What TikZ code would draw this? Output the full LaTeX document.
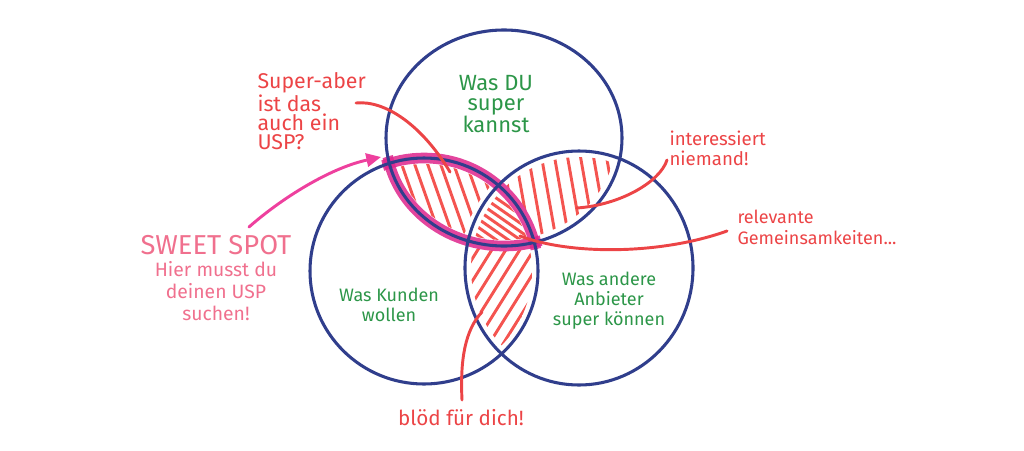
\documentclass[tikz,border=0pt]{standalone}
\usepackage{fontspec}
\setmainfont{Fira Sans}
\usetikzlibrary{arrows.meta}

\definecolor{venblue}{RGB}{48,62,140}
\definecolor{hatchred}{RGB}{244,84,80}
\definecolor{notered}{RGB}{236,68,70}
\definecolor{notegreen}{RGB}{44,150,72}
\definecolor{spotmagenta}{RGB}{222,36,140}
\definecolor{sweetpink}{RGB}{240,112,142}
\definecolor{arrowpink}{RGB}{238,64,158}

\tikzset{every picture/.style={line width=0.75pt}}
\tikzset{
  ring/.style={draw=venblue, line width=2.3pt},
  hatch/.style={draw=hatchred, line width=2.2pt, line cap=round},
  noteline/.style={draw=notered, line width=2.2pt, line cap=round},
  rednote/.style={text=notered, inner sep=0.75pt, font=\fontsize{16}{14.5}\selectfont},
  greennote/.style={text=notegreen, inner sep=0.75pt, align=center, font=\fontsize{13.5}{15}\selectfont},
}

\begin{document}
\begin{tikzpicture}[x=0.75pt,y=0.75pt,yscale=-1,xscale=1]
\useasboundingbox (0,0) rectangle (1024,450);
\def\topcirc{(504,138) ellipse [x radius=118, y radius=108]}
\def\leftcirc{(424,271) ellipse [x radius=114, y radius=113]}
\def\rightcirc{(579,268) ellipse [x radius=114, y radius=117]}

% hatching of the pairwise overlaps
\begin{scope}
  \clip (424,271) ellipse [x radius=108, y radius=107];
  \clip (579,268) ellipse [x radius=108, y radius=111];
  \foreach \x in {300,314,...,620} \draw[hatch] (\x,400) -- ++(150,-240);
\end{scope}
\begin{scope}
  \clip (504,138) ellipse [x radius=112, y radius=102];
  \clip (424,271) ellipse [x radius=108, y radius=107];
  \foreach \x in {340,353,...,560} \draw[hatch] (\x,100) -- ++(60,170);
\end{scope}
\begin{scope}
  \clip (504,138) ellipse [x radius=112, y radius=102];
  \clip (579,268) ellipse [x radius=108, y radius=111];
  \foreach \x in {470,483,...,640} \draw[hatch] (\x,120) -- ++(30,170);
\end{scope}
% middle part
\begin{scope}
  \clip (504,138) ellipse [x radius=123, y radius=113];
  \clip (424,271) ellipse [x radius=119, y radius=118];
  \clip (579,268) ellipse [x radius=119, y radius=122];
  \fill[white] (380,150) rectangle (600,280);
\end{scope}
\begin{scope}
  \clip (504,138) ellipse [x radius=112, y radius=102];
  \clip (424,271) ellipse [x radius=108, y radius=107];
  \clip (579,268) ellipse [x radius=108, y radius=111];
  \foreach \x in {300,312,...,560} \draw[hatch] (\x,120) -- ++(230,160);
\end{scope}

% sweet spot outline
\begin{scope}
  \clip (424,271) ellipse [x radius=121, y radius=120];
  \draw[spotmagenta, opacity=0.85, line width=8pt] \topcirc;
\end{scope}
\begin{scope}
  \clip (504,138) ellipse [x radius=125, y radius=115];
  \draw[spotmagenta, opacity=0.85, line width=8pt] \leftcirc;
\end{scope}

% the three circles
\draw[ring] \topcirc;
\draw[ring] \leftcirc;
\draw[ring] \rightcirc;

% texts
\node[greennote, font=\fontsize{16.5}{15}\selectfont] (duText) at (496,104) {Was DU\\super\\kannst};
\node[greennote] (kunden) at (389,305) {Was Kunden\\wollen};
\node[greennote] (anbieter) at (609,301) {Was andere\\Anbieter\\super können};
\node[rednote, anchor=north west, align=left] (superq) at (256,71) {Super-aber\\ist das\\auch ein\\USP?};
\node[rednote, anchor=north west, align=left, font=\fontsize{14}{15}\selectfont] (niemand) at (668,129) {interessiert\\niemand!};
\node[rednote, anchor=north west, align=left, font=\fontsize{13.5}{16}\selectfont] (relevant) at (736,208) {relevante\\Gemeinsamkeiten...};
\node[rednote, font=\fontsize{15.5}{16}\selectfont] (bloed) at (461,418) {blöd für dich!};
\node[text=sweetpink, inner sep=0.75pt, align=center, font=\fontsize{14.5}{16.5}\selectfont] (sweet) at (216,278)
  {{\fontsize{20.5}{20}\selectfont SWEET SPOT}\\Hier musst du\\deinen USP\\suchen!};

% connectors
\coordinate (superStart) at (356,103);
\coordinate (lensTip) at (450,172);
\coordinate (niemandStart) at (667,160);
\coordinate (niemandTip) at (577,208);
\coordinate (relevantStart) at (727,231);
\coordinate (centerTip) at (520,236);
\coordinate (bloedStart) at (462,400);
\coordinate (bottomTip) at (482,312);
\coordinate (sweetStart) at (249,227);
\coordinate (spotTip) at (381,157);

\draw[noteline] (superStart) .. controls (385,100) and (422,125) .. (lensTip);
\draw[noteline] (niemandStart) .. controls (660,182) and (620,205) .. (niemandTip);
\draw[noteline] (relevantStart) .. controls (660,255) and (570,255) .. (centerTip);
\draw[noteline] (bloedStart) .. controls (460,360) and (465,330) .. (bottomTip);
\draw[draw=arrowpink, line width=2.2pt, line cap=round, -{Triangle[length=11pt, width=10pt]}]
  (sweetStart) .. controls (282,198) and (330,168) .. (spotTip);
\end{tikzpicture}
\end{document}
